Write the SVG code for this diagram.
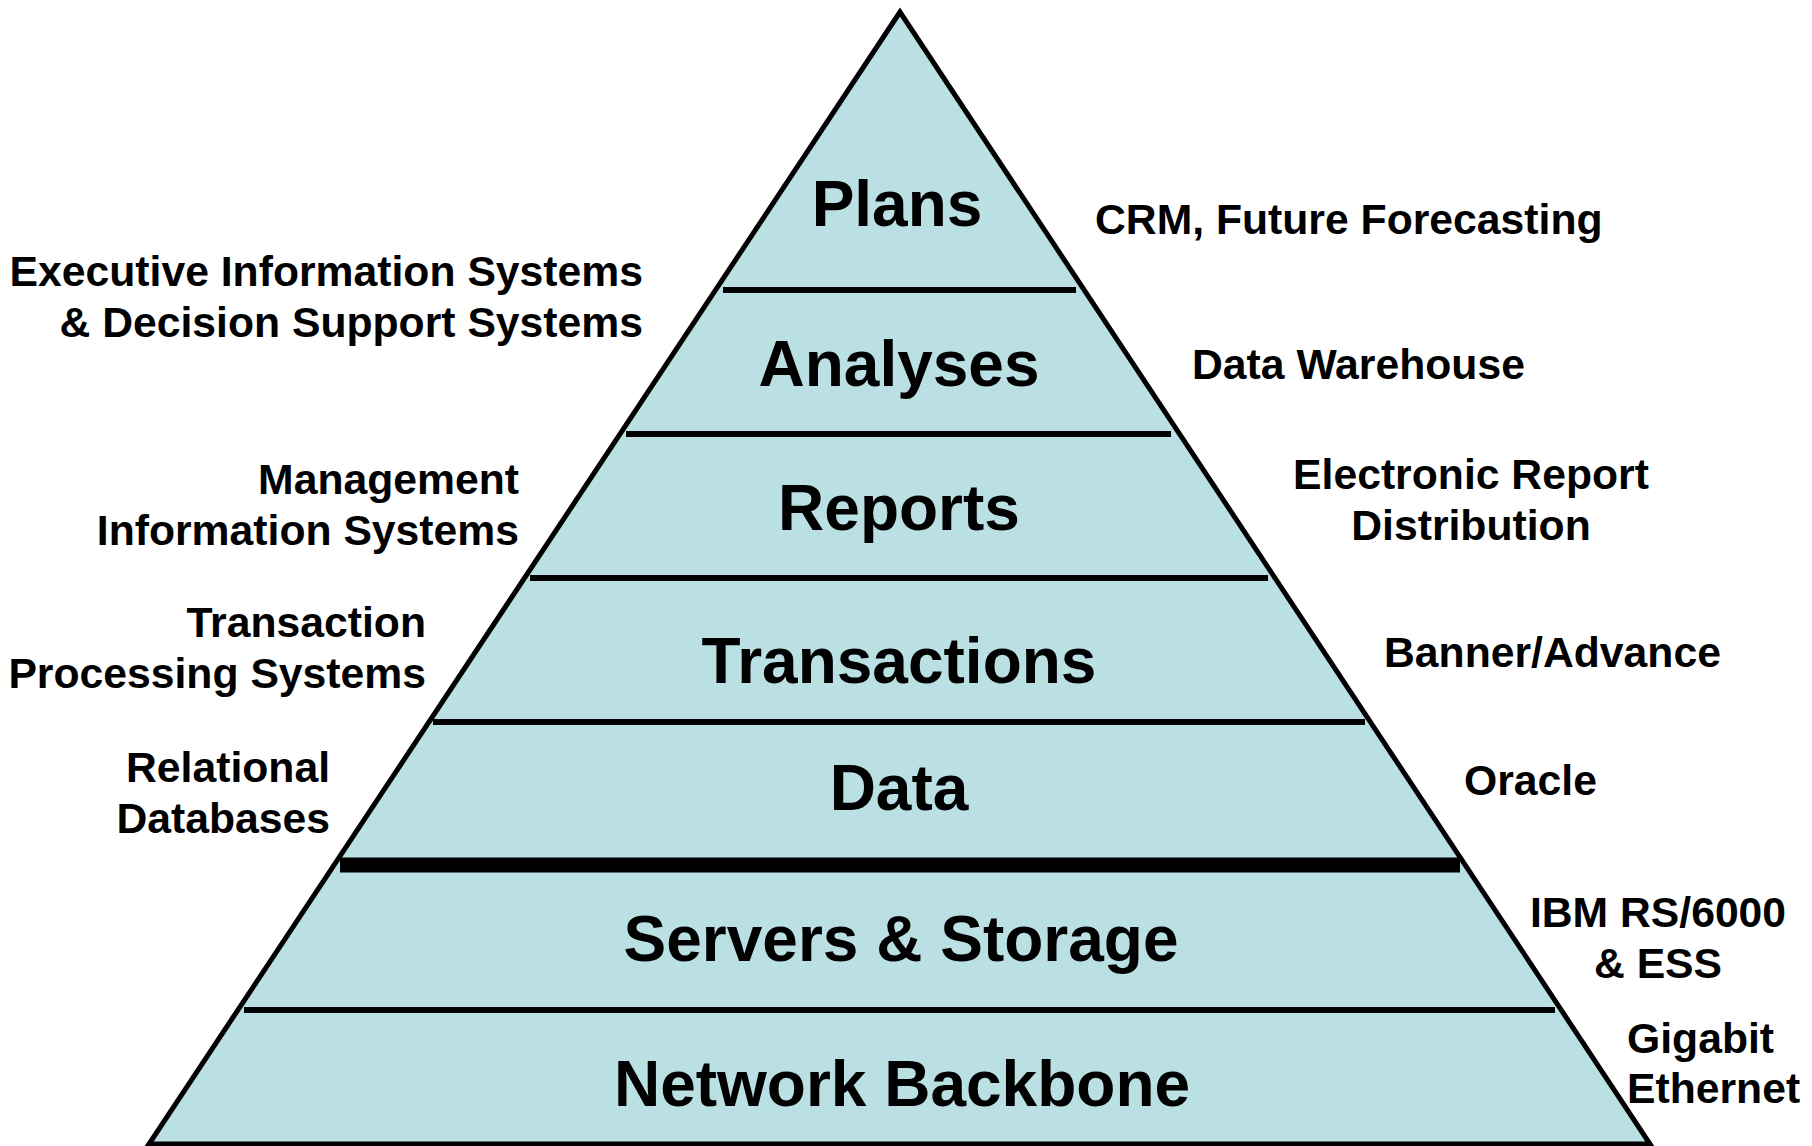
<svg xmlns="http://www.w3.org/2000/svg" width="1812" height="1146" viewBox="0 0 1812 1146">
  <style>
    .tier { font-family: "Liberation Sans", Arial, sans-serif; font-weight: bold; font-size: 64px; fill: #000; text-anchor: middle; }
    .side { font-family: "Liberation Sans", Arial, sans-serif; font-weight: bold; font-size: 42.7px; fill: #000; }
    .sep { stroke: #000; stroke-width: 6; }
    .septhick { stroke: #000; stroke-width: 15; }
  </style>
  <rect width="1812" height="1146" fill="#fff"/>
  <g id="pyramid">
    <polygon points="900,12 149,1144 1650,1144" fill="#BAE0E3" stroke="#000" stroke-width="5"/>
  </g>
  <g id="separators">
    <line class="sep" x1="723" y1="290" x2="1076" y2="290"/>
    <line class="sep" x1="626" y1="434" x2="1171" y2="434"/>
    <line class="sep" x1="530" y1="578" x2="1268" y2="578"/>
    <line class="sep" x1="433" y1="722" x2="1365" y2="722"/>
    <line class="septhick" x1="340" y1="865" x2="1460" y2="865"/>
    <line class="sep" x1="244" y1="1010" x2="1555" y2="1010"/>
  </g>
  <g id="tier-plans"><text class="tier" x="897" y="226">Plans</text></g>
  <g id="tier-analyses"><text class="tier" x="899" y="386">Analyses</text></g>
  <g id="tier-reports"><text class="tier" x="899" y="530">Reports</text></g>
  <g id="tier-transactions"><text class="tier" x="899" y="683">Transactions</text></g>
  <g id="tier-data"><text class="tier" x="899" y="810">Data</text></g>
  <g id="tier-servers"><text class="tier" x="901" y="961">Servers &amp; Storage</text></g>
  <g id="tier-network"><text class="tier" x="902" y="1106">Network Backbone</text></g>

  <g id="left-exec"><text class="side" text-anchor="end"><tspan x="643" y="286">Executive Information Systems</tspan><tspan x="643" y="337">&amp; Decision Support Systems</tspan></text></g>
  <g id="left-mis"><text class="side" text-anchor="end"><tspan x="519" y="494">Management</tspan><tspan x="519" y="545">Information Systems</tspan></text></g>
  <g id="left-tps"><text class="side" text-anchor="end"><tspan x="426" y="637">Transaction</tspan><tspan x="426" y="688">Processing Systems</tspan></text></g>
  <g id="left-rdb"><text class="side" text-anchor="end"><tspan x="330" y="782">Relational</tspan><tspan x="330" y="833">Databases</tspan></text></g>

  <g id="right-crm"><text class="side" x="1095" y="234">CRM, Future Forecasting</text></g>
  <g id="right-dw"><text class="side" x="1192" y="379">Data Warehouse</text></g>
  <g id="right-erd"><text class="side" text-anchor="middle"><tspan x="1471" y="489">Electronic Report</tspan><tspan x="1471" y="540">Distribution</tspan></text></g>
  <g id="right-banner"><text class="side" x="1384" y="667">Banner/Advance</text></g>
  <g id="right-oracle"><text class="side" x="1464" y="795">Oracle</text></g>
  <g id="right-ibm"><text class="side" text-anchor="middle"><tspan x="1658" y="927">IBM RS/6000</tspan><tspan x="1658" y="978">&amp; ESS</tspan></text></g>
  <g id="right-gigabit"><text class="side"><tspan x="1627" y="1053">Gigabit</tspan><tspan x="1627" y="1103">Ethernet</tspan></text></g>
</svg>
